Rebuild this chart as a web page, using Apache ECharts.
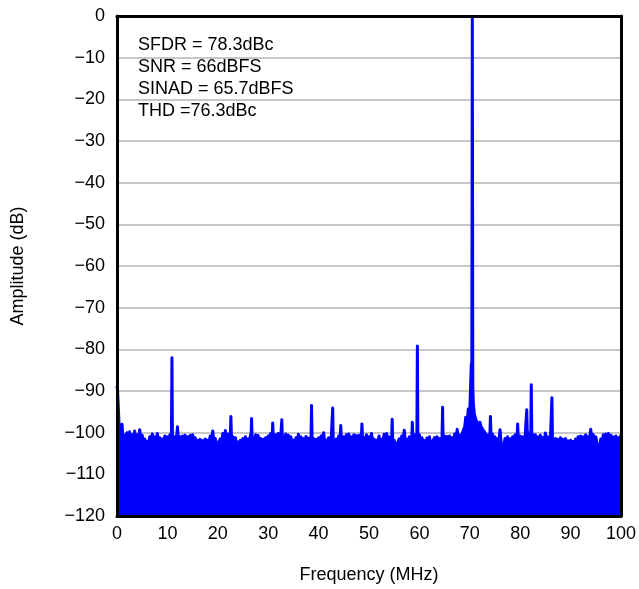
<!DOCTYPE html>
<html>
<head>
<meta charset="utf-8">
<script src="https://cdn.jsdelivr.net/npm/echarts@6/dist/echarts.min.js"></script>
<style>
html,body{margin:0;padding:0;background:#fff;}
#c{width:639px;height:589px;}
</style>
</head>
<body>
<div id="c"></div>
<script>
// Spectrum peaks sampled on a 0.5 MHz grid, 0..100 MHz (dB)
const gridStartMHz = 0;
const gridStepMHz = 0.5;
const gridAmp = [
 -89,-100.5,-98,-101,-100,-99.8,-100.5,-99.6,-100.5,-99.3,
 -100.6,-101.5,-102.1,-101,-100.3,-101,-100.2,-101.2,-101.5,-100.8,
 -101,-100.5,-101,-101,-98.6,-101,-100.8,-100.6,-101,-100.7,
 -100.5,-101.2,-101.8,-101.6,-101.9,-101.5,-101.8,-100.8,-99.6,-101.4,
 -102.6,-101.5,-100.2,-99.5,-100.3,-100,-101,-101.2,-102.2,-101.8,
 -101.4,-101,-101.5,-100.5,-101,-100.5,-100.7,-101.4,-101.6,-101.2,
 -100.8,-100.2,-101,-100.5,-100.2,-100.8,-101,-100.3,-100.6,-101,
 -101.8,-101.2,-100.4,-101,-101.4,-100.9,-101.3,-101,-101.4,-101.6,
 -101.2,-100.8,-100,-101.8,-101.2,-101.5,-102.6,-101.5,-100.8,-101,
 -101,-100.5,-100.3,-101,-100.5,-100.7,-100.6,-101,-101.2,-100.5,
 -101,-100.2,-101.5,-101.8,-100.8,-101.6,-100.4,-100.2,-101,-101.2,
 -101.8,-102.9,-101.5,-100.8,-99.4,-101.6,-101,-101,-100.5,-100.8,
 -100.5,-101.2,-101.9,-101.3,-101,-102.4,-101.2,-101,-101.4,-101,
 -100.8,-100.9,-100.8,-101.2,-100.3,-99.2,-100.6,-100.2,-98.5,-97.5,
 -95,-0.3,-96,-97.3,-97.5,-98.2,-99.2,-100,-100,-100.3,
 -101,-101.5,-99.3,-102.6,-101.4,-101,-101.5,-101,-100.5,-97.9,
 -100.8,-101,-100.6,-100,-100.5,-100.2,-100.5,-101,-100.6,-101.2,
 -100.1,-101,-101.3,-101.5,-101.4,-101.6,-101.2,-101.6,-101.4,-102,
 -101.8,-102.1,-101.5,-101,-100.8,-101,-100.5,-101,-99.2,-100.5,
 -101,-102.6,-101.5,-100.5,-100.3,-100.2,-100.6,-101,-100.8,-101.2,
 -100.5
];
// Noise dips between grid samples, at 0.25 MHz offsets (null = none)
const dipOffsetMHz = 0.25;
const dipAmp = [
 null,-101.8,-102.3,-101.4,-101.6,-102,-101.2,-101.8,-102.2,-101.9,
 -102.5,-103,-102.6,-102,-101.9,-102.4,-102.3,-102.8,-102.5,-102.2,
 -102,-102.4,-102.6,-102.1,-102.8,-102.3,-102.2,-102.6,-102,-102.4,
 -102.5,-103,-102.7,-103.1,-102.8,-102.9,-102.5,-102,-102.4,-103.2,
 -103,-102.3,-101.8,-101.5,-102.2,-102.4,-102.5,-103.1,-103.2,-102.7,
 -102.4,-102.8,-102.3,null,-102.1,-102.2,-102.6,-102.9,-102.7,-102.3,
 -101.8,-102.2,-102,-101.9,-101.9,null,-101.7,-102,-102.4,-102.7,
 -102.9,-102.1,-101.9,-102.3,-102.6,-102.4,-102.5,-102.2,-102.6,-102.8,
 -102.3,-101.9,-102.6,-102.7,-102.5,null,-103.3,-102.4,-102.2,-102.1,
 -101.9,-101.8,-102.1,-102,-101.9,-102,-102.2,-102.4,-102,-102.3,
 -102,-102.5,-102.9,-102.3,-102.5,-102.1,-101.8,-102.2,-102.4,-102.8,
 -103.4,-103,-102.4,-101.9,-102.5,-102.4,-102.2,-101.8,-101.9,-101.9,
 -102.3,-102.6,-102.8,-102.4,-103,-102.8,-102.3,-102.5,-102.3,-102.1,
 -102.1,-102.2,-102.3,-102.1,-101.5,-101.4,-101.8,-100.2,null,null,
 null,null,-97,-98,-98.6,-99.6,-100.4,-101,-101.2,-101.6,
 -102.2,-102.5,-102.8,-103,-102.4,-102.3,-102.5,-102,-101.7,-101.8,
 -102,-101.8,null,-101.2,null,-101.5,-101.8,-102,-101.9,-102.2,
 -101.8,-102.1,null,-102.4,-102.6,-102.5,-102.6,-102.8,-102.7,-103,
 -103.1,-102.9,-102.4,-102.1,-102,-101.8,-102,-101.5,-101.6,-102,
 -102.8,-103.4,-102.4,-101.8,-101.6,-101.8,-102,-102.1,-102.3,-101.9
];
// Narrow spurs (harmonics / spurs) with their base samples
const spurFreq = [0.1,0.3, 10.8,10.9, 22.6,22.7, 26.6,26.7,26.8, 30.8,30.9, 32.6,32.7,32.8,
  38.6,38.7, 42.7,42.8,42.9, 44.3,44.4, 48.6,48.7, 54.6,54.7, 58.6,58.7, 59.6,59.7,
  64.6,64.7, 69.1,69.2,69.3, 69.6,69.7,69.8, 70.3,70.4,70.6,70.7,70.9,
  74.1,74.2, 79.4,79.6, 81.2,81.3,81.4, 82.1,82.2,82.3, 86.2,86.3,86.4];
const spurAmp = [-89.5,-95, -101,-82, -96.1,-100.8, -101,-96.6,-101, -100.5,-97.7, -100.6,-96.9,-100.8,
  -93.5,-101, -101.3,-94.1,-102, -101,-98.3, -97.9,-101, -96.8,-101.5, -97.5,-101, -79.2,-101,
  -93.9,-101.2, -98.8,-96.3,-98.2, -97.6,-94.3,-96.8, -83.5,-86,-89,-93,-95.5,
  -96.1,-100.2, -100.7,-100.8, -100.5,-94.5,-99.5, -100,-88.5,-100, -101,-91.6,-101.3];

const yTicks = [0,-10,-20,-30,-40,-50,-60,-70,-80,-90,-100,-110,-120];
const xTicks = [0,10,20,30,40,50,60,70,80,90,100];

const annotation = ['SFDR = 78.3dBc','SNR = 66dBFS','SINAD = 65.7dBFS','THD =76.3dBc'];

const pts = [];
gridAmp.forEach((v,i)=>pts.push([gridStartMHz + i*gridStepMHz, v]));
dipAmp.forEach((v,i)=>{ if(v!==null) pts.push([gridStartMHz + i*gridStepMHz + dipOffsetMHz, v]); });
spurFreq.forEach((f,i)=>pts.push([f, spurAmp[i]]));
pts.sort((a,b)=>a[0]-b[0]);

const FONT = '"Liberation Sans", Arial, Helvetica, sans-serif';
const chart = echarts.init(document.getElementById('c'), null, {renderer:'canvas'});
const lineAx = {show:true, onZero:false, lineStyle:{color:'#000', width:3}};
const yMin = yTicks[yTicks.length-1], yMax = yTicks[0];
const xMin = xTicks[0], xMax = xTicks[xTicks.length-1];
chart.setOption({
  animation:false,
  backgroundColor:'#fff',
  title:{
    text: annotation.join('\n'),
    left:138, top:34, padding:0,
    textStyle:{fontFamily:FONT, fontSize:18, fontWeight:'normal', color:'#000', lineHeight:22}
  },
  grid:{left:117, right:17, top:16, bottom:67, containLabel:false},
  xAxis:[{
    type:'value', min:xMin, max:xMax, interval:10, position:'bottom',
    axisLine:lineAx, axisTick:{show:false}, splitLine:{show:false},
    axisLabel:{fontFamily:FONT, fontSize:18, color:'#000', margin:9},
    name:'Frequency (MHz)', nameLocation:'middle', nameGap:50,
    nameTextStyle:{fontFamily:FONT, fontSize:18, color:'#000'}, z:10
  },{
    type:'value', min:xMin, max:xMax, position:'top',
    axisLine:lineAx, axisTick:{show:false}, splitLine:{show:false}, axisLabel:{show:false}, z:10
  }],
  yAxis:[{
    type:'value', min:yMin, max:yMax, interval:10, position:'left',
    axisLine:{show:false}, axisTick:{show:false},
    splitLine:{show:true, lineStyle:{color:'#b4b4b4', width:1.5}},
    axisLabel:{fontFamily:FONT, fontSize:18, color:'#000', margin:12,
      formatter:v=> v<0 ? '\u2212'+Math.abs(v) : String(v)},
    name:'Amplitude (dB)', nameLocation:'middle', nameGap:90,
    nameTextStyle:{fontFamily:FONT, fontSize:18, color:'#000'}
  },{
    type:'value', min:yMin, max:yMax, position:'right',
    axisLine:lineAx, axisTick:{show:false}, splitLine:{show:false}, axisLabel:{show:false}, z:10
  },{
    type:'value', min:yMin, max:yMax, position:'left',
    axisLine:lineAx, axisTick:{show:false}, splitLine:{show:false}, axisLabel:{show:false}, z:10
  }],
  series:[{
    type:'line', data:pts, xAxisIndex:0, yAxisIndex:0,
    showSymbol:false, symbol:'none', sampling:null,
    lineStyle:{color:'#0000ff', width:3, cap:'round', join:'round'},
    areaStyle:{color:'#0000ff', opacity:1, origin:'start'},
    z:2
  }]
});
</script>
</body>
</html>
